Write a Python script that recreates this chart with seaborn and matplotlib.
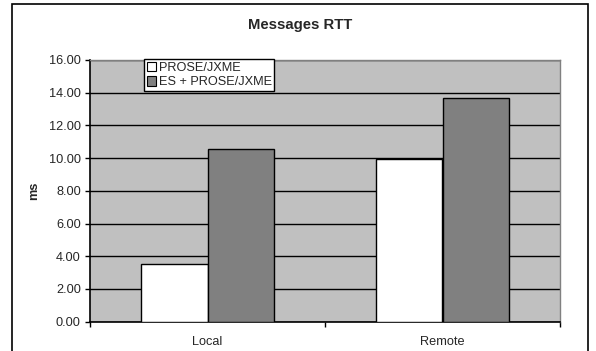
import matplotlib
matplotlib.use("Agg")
import matplotlib.pyplot as plt
import numpy as np
import pandas as pd
import seaborn as sns
from matplotlib.patches import Rectangle

# values (ms)
categories = ["Local", "Remote"]
series = ["PROSE/JXME", "ES + PROSE/JXME"]
prose_jxme = [3.50, 9.95]
es_prose_jxme = [10.55, 13.70]
yticks = [0, 2, 4, 6, 8, 10, 12, 14, 16]

df = pd.DataFrame({
    "category": categories * 2,
    "series": [series[0]] * 2 + [series[1]] * 2,
    "ms": prose_jxme + es_prose_jxme,
})

sns.set_theme(style="white")
plt.rcParams["font.family"] = ["Liberation Sans", "DejaVu Sans"]

fs = 9.2

fig = plt.figure(figsize=(5.96, 3.51), dpi=100)
fig.patch.set_facecolor("white")
ax = fig.add_axes([90 / 596, 1 - 321.7 / 351, 470 / 596, 261.7 / 351])

sns.barplot(data=df, x="category", y="ms", hue="series", ax=ax,
            palette=["#ffffff", "#808080"], width=0.57, gap=0,
            edgecolor="black", linewidth=1, saturation=1, zorder=3)

ax.set_facecolor("#c0c0c0")
ax.set_ylim(0, 16)
ax.set_xlim(-0.5, 1.5)
ax.set_yticks(yticks)
ax.set_yticklabels([f"{v:.2f}" for v in yticks], fontsize=fs)
ax.yaxis.grid(True, color="black", linewidth=1, zorder=1)
ax.set_axisbelow(True)

ax.set_xticks([0, 1])
ax.set_xticklabels(categories, fontsize=fs)
ax.set_xticks([-0.5, 0.5, 1.5], minor=True)
ax.tick_params(axis="x", which="major", length=0, pad=10)
ax.tick_params(axis="x", which="minor", direction="out", length=3.6,
               width=1, color="black", bottom=True)
ax.tick_params(axis="y", direction="out", length=3.6, width=1,
               color="black", left=True, pad=3)

for s in ["left", "bottom"]:
    ax.spines[s].set_color("black")
    ax.spines[s].set_linewidth(1.2)
for s in ["top", "right"]:
    ax.spines[s].set_color("#808080")
    ax.spines[s].set_linewidth(1)

ax.set_xlabel("")
ax.set_ylabel("ms", fontsize=fs, fontweight="bold")
ax.yaxis.set_label_coords(-0.106, 0.5)

leg = ax.legend(loc="upper left", bbox_to_anchor=(0.115, 1.004),
                borderaxespad=0, fontsize=fs, frameon=True, fancybox=False,
                handlelength=0.75, handleheight=0.75, handletextpad=0.2,
                labelspacing=0.2, borderpad=0.2)
leg.get_frame().set_edgecolor("black")
leg.get_frame().set_linewidth(1)
leg.get_frame().set_facecolor("white")
leg.get_frame().set_alpha(1)
for h in leg.legend_handles:
    h.set_edgecolor("black")
    h.set_linewidth(0.8)

fig.text(300 / 596, 1 - 25 / 351, "Messages RTT", ha="center", va="center",
         fontsize=10.7, fontweight="bold")

# outer chart border
fig.patches.append(Rectangle((12 / 596, -0.1), 576 / 596, 1.1 - 4 / 351,
                             transform=fig.transFigure, fill=False,
                             edgecolor="black", linewidth=1.2, zorder=0))

fig.savefig("out.png", dpi=100, facecolor="white")
